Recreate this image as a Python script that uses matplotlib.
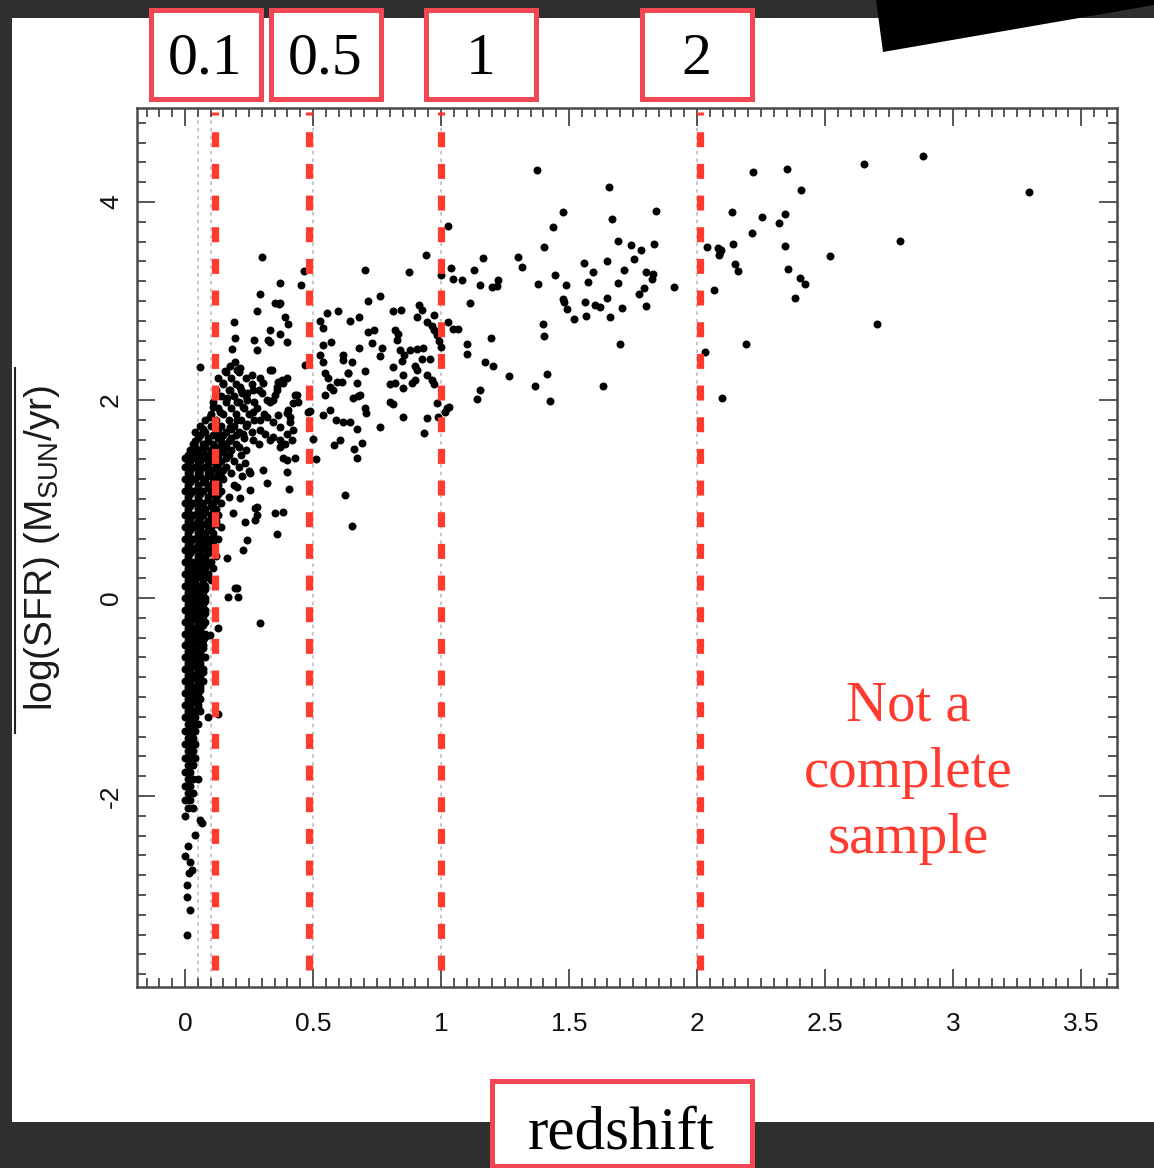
import matplotlib
matplotlib.use('Agg')
import matplotlib.pyplot as plt
from matplotlib.patches import Rectangle, Polygon
from matplotlib.lines import Line2D
from matplotlib.ticker import MultipleLocator, FixedLocator, FixedFormatter
import matplotlib.transforms as mtransforms

W, H = 1154, 1168
plt.rcParams['font.family'] = ['Liberation Sans', 'DejaVu Sans']
plt.rcParams['axes.unicode_minus'] = False
plt.rcParams['lines.scale_dashes'] = False

# ---------------- data ----------------
x_tick_values = [0, 0.5, 1, 1.5, 2, 2.5, 3, 3.5]
x_tick_labels = ['0', '0.5', '1', '1.5', '2', '2.5', '3', '3.5']
y_tick_values = [-2, 0, 2, 4]
y_tick_labels = ['-2', '0', '2', '4']

reference_redshifts = [0.05, 0.1, 0.5, 1.0, 2.0]          # faint dotted lines of the original plot
highlight_redshifts = [0.117, 0.485, 1.0, 2.012]          # red dashed overlays
box_labels = ['0.1', '0.5', '1', '2']
x_label = 'redshift'
y_label = r'log(SFR) (M$_{\mathregular{SUN}}$/yr)'
note_text = 'Not a\ncomplete\nsample'

# dense low-redshift column: log SFR levels and redshifts of the points on each level
core_logsfr = [2.28, 2.22, 2.16, 2.10, 2.04, 1.98, 1.92, 1.86, 1.80, 1.74, 1.68, 1.62,
               1.56, 1.50, 1.44, 1.38, 1.32, 1.26, 1.20, 1.14, 1.08, 1.02, 0.96, 0.90,
               0.84, 0.78, 0.72, 0.66, 0.60, 0.54, 0.48, 0.42, 0.36, 0.30, 0.24, 0.18,
               0.12, 0.06, 0.00, -0.06, -0.12, -0.18, -0.24, -0.30, -0.36, -0.42, -0.48,
               -0.54, -0.60, -0.66, -0.72, -0.78, -0.84, -0.90, -0.96, -1.02, -1.08,
               -1.14, -1.20, -1.27, -1.34, -1.41, -1.48, -1.55, -1.62, -1.69, -1.76,
               -1.83, -1.90, -1.97, -2.04, -2.12, -2.20]
core_redshifts = [
    [0.16, 0.21], [0.13, 0.18, 0.24], [0.15, 0.20, 0.26], [0.12, 0.17, 0.22, 0.29],
    [0.14, 0.19, 0.24], [0.11, 0.16, 0.21, 0.27, 0.33], [0.13, 0.18, 0.23, 0.28],
    [0.10, 0.15, 0.20, 0.25, 0.31], [0.08, 0.12, 0.17, 0.22, 0.27],
    [0.06, 0.10, 0.14, 0.19, 0.24], [0.04, 0.08, 0.12, 0.16, 0.21, 0.26],
    [0.05, 0.09, 0.13, 0.18, 0.23], [0.03, 0.07, 0.11, 0.15, 0.20, 0.29],
    [0.02, 0.06, 0.10, 0.14, 0.18, 0.24], [0.01, 0.05, 0.09, 0.13, 0.17, 0.22],
    [0.02, 0.06, 0.10, 0.14, 0.19], [0.00, 0.04, 0.08, 0.12, 0.16, 0.21],
    [0.01, 0.05, 0.09, 0.13, 0.18], [0.00, 0.04, 0.08, 0.12, 0.15],
    [0.01, 0.05, 0.09, 0.13, 0.19], [0.00, 0.03, 0.07, 0.11, 0.14],
    [0.01, 0.05, 0.09, 0.12, 0.17], [0.00, 0.03, 0.07, 0.11, 0.14],
    [0.01, 0.05, 0.08, 0.12], [0.00, 0.03, 0.07, 0.10, 0.13], [0.01, 0.05, 0.09, 0.12],
    [0.00, 0.03, 0.06, 0.10, 0.14], [0.01, 0.05, 0.08, 0.11], [0.00, 0.03, 0.07, 0.10, 0.13],
    [0.01, 0.05, 0.08, 0.11], [0.00, 0.03, 0.06, 0.10], [0.01, 0.05, 0.08, 0.12],
    [0.00, 0.03, 0.07, 0.10], [0.01, 0.04, 0.08, 0.11], [0.00, 0.03, 0.06, 0.09],
    [0.01, 0.04, 0.07, 0.10], [0.00, 0.03, 0.06, 0.08], [0.01, 0.04, 0.07],
    [0.00, 0.03, 0.06, 0.08], [0.01, 0.04, 0.07], [0.00, 0.03, 0.05, 0.08],
    [0.01, 0.04, 0.07], [0.00, 0.02, 0.05, 0.08], [0.01, 0.04, 0.06],
    [0.00, 0.03, 0.05, 0.08], [0.01, 0.04, 0.07], [0.00, 0.02, 0.05, 0.07],
    [0.01, 0.04, 0.06], [0.00, 0.03, 0.05, 0.08], [0.01, 0.04, 0.06],
    [0.00, 0.02, 0.05, 0.07], [0.01, 0.03, 0.06], [0.00, 0.02, 0.05, 0.07],
    [0.01, 0.04, 0.06], [0.00, 0.03, 0.05], [0.01, 0.04, 0.06], [0.00, 0.02, 0.05],
    [0.01, 0.03, 0.06], [0.00, 0.02, 0.04], [0.01, 0.03, 0.05], [0.00, 0.02, 0.04],
    [0.01, 0.03], [0.00, 0.02, 0.04], [0.01, 0.03], [0.00, 0.02, 0.04], [0.01, 0.03],
    [0.00, 0.02], [0.01, 0.03, 0.05], [0.00, 0.02], [0.01, 0.03], [0.00, 0.02],
    [0.01, 0.03], [0.00]]

# in-between levels of the same dense column
core_logsfr_fill = [1.71, 1.65, 1.59, 1.53, 1.47, 1.41, 1.35, 1.29, 1.23, 1.17, 1.11, 1.05,
                    0.99, 0.93, 0.87, 0.81, 0.75, 0.69, 0.63, 0.57, 0.51, 0.45, 0.39, 0.33,
                    0.27, 0.21, 0.15, 0.09, 0.03, -0.03, -0.09, -0.15, -0.21, -0.27, -0.33,
                    -0.39, -0.45, -0.51, -0.57, -0.63, -0.69, -0.75, -0.81, -0.87, -0.93,
                    -0.99, -1.05, -1.11, -1.17]
core_redshifts_fill = [
    [0.07, 0.13, 0.18], [0.06, 0.11, 0.15, 0.20], [0.04, 0.09, 0.14, 0.17],
    [0.04, 0.08, 0.12, 0.16, 0.21], [0.03, 0.07, 0.11, 0.15], [0.00, 0.04, 0.08, 0.12, 0.16],
    [0.01, 0.05, 0.09, 0.13], [0.02, 0.06, 0.10, 0.15], [0.02, 0.06, 0.10, 0.14],
    [0.02, 0.07, 0.11], [0.01, 0.05, 0.09, 0.12], [0.02, 0.06, 0.10, 0.13],
    [0.01, 0.05, 0.09, 0.12], [0.02, 0.06, 0.10], [0.01, 0.05, 0.08, 0.11],
    [0.02, 0.06, 0.10], [0.01, 0.04, 0.08, 0.12], [0.02, 0.06, 0.09],
    [0.01, 0.05, 0.08, 0.11], [0.02, 0.06, 0.09], [0.01, 0.04, 0.08, 0.11],
    [0.02, 0.06, 0.09], [0.01, 0.05, 0.08], [0.02, 0.06, 0.09], [0.01, 0.05, 0.07],
    [0.02, 0.05, 0.08], [0.01, 0.04, 0.07], [0.02, 0.05, 0.08], [0.01, 0.04, 0.06],
    [0.02, 0.05, 0.08], [0.01, 0.04, 0.06], [0.02, 0.05, 0.08], [0.01, 0.03, 0.06],
    [0.02, 0.05, 0.07], [0.01, 0.04, 0.06], [0.02, 0.05, 0.08], [0.01, 0.03, 0.06],
    [0.02, 0.05, 0.07], [0.01, 0.04, 0.06], [0.02, 0.05], [0.01, 0.03, 0.06],
    [0.02, 0.05, 0.07], [0.01, 0.04], [0.02, 0.05], [0.01, 0.03, 0.06], [0.02, 0.05],
    [0.01, 0.03], [0.02, 0.05], [0.01, 0.03]]

# scattered galaxies, (redshift, log SFR)
low_z_points = [
    (0.302, 3.44), (0.293, 3.07), (0.352, 2.98), (0.367, 2.97), (0.280, 2.90), (0.193, 2.79),
    (0.197, 2.63), (0.270, 2.61), (0.280, 2.51), (0.330, 2.71), (0.324, 2.61), (0.184, 2.52),
    (0.059, 2.33), (0.332, 2.59), (0.195, 2.38), (0.176, 2.34), (0.156, 2.29), (0.202, 2.30),
    (0.215, 2.32), (0.260, 2.25), (0.293, 2.22), (0.332, 2.30), (0.365, 2.18), (0.436, 2.05),
    (0.358, 2.10), (0.352, 2.05), (0.319, 2.00), (0.404, 1.90), (0.150, 2.17), (0.176, 2.10),
    (0.215, 2.13), (0.241, 2.07), (0.163, 2.02), (0.202, 1.98), (0.228, 1.93), (0.111, 1.93),
    (0.098, 1.83), (0.137, 1.88), (0.267, 1.88), (0.293, 1.80), (0.319, 1.83), (0.345, 1.78),
    (0.371, 1.73), (0.397, 1.66), (0.293, 1.70), (0.241, 1.76), (0.202, 1.80), (0.176, 1.73),
    (0.228, 1.66), (0.267, 1.60), (0.332, 1.60), (0.371, 1.53), (0.319, 1.16), (0.254, 1.09),
    (0.215, 1.01), (0.280, 0.92), (0.280, 0.84), (0.352, 0.86), (0.234, 0.77), (0.241, 0.59),
    (0.228, 0.48), (0.163, 0.40), (0.358, 0.65), (0.251, 1.28), (0.221, 1.23), (0.202, 1.12),
    (0.189, 0.86), (0.195, 0.10), (0.313, 1.66), (0.345, 1.63), (0.430, 1.41), (0.306, 1.29),
    (0.234, 1.36), (0.254, 1.26), (0.273, 0.91), (0.273, 0.79), (0.443, 1.98), (0.410, 1.83),
    (0.378, 2.20), (0.339, 2.30), (0.358, 2.13), (0.345, 2.00), (0.365, 1.85), (0.306, 2.17),
    (0.300, 2.07), (0.267, 2.10), (0.241, 2.00), (0.221, 2.07), (0.202, 0.10), (0.169, 0.01),
    (0.208, 0.01), (0.293, -0.25), (0.130, -0.30), (0.098, -0.37), (0.130, -1.17),
    (0.091, -1.20), (0.065, -2.27), (0.039, -2.39), (0.007, -2.90), (0.007, -3.02),
    (0.020, -3.15), (0.007, -3.40), (0.017, -2.78), (0.026, -2.75), (0.013, -2.51),
    (0.000, -2.61), (0.020, -2.67), (0.059, -2.24), (0.371, 2.98), (0.391, 2.84),
    (0.404, 2.77), (0.371, 2.67), (0.397, 2.59), (0.397, 2.22), (0.384, 2.17), (0.430, 2.05),
    (0.423, 1.97), (0.397, 1.87), (0.410, 1.78), (0.423, 1.70), (0.371, 1.60), (0.391, 1.56),
    (0.417, 1.60), (0.384, 1.41), (0.397, 1.39), (0.397, 1.27), (0.408, 1.10), (0.384, 0.87),
    (0.371, 3.18), (0.453, 3.16)]

mid_z_points = [
    (0.940, 3.46), (0.703, 3.31), (0.876, 3.29), (0.466, 3.30), (0.998, 3.26), (0.716, 3.00),
    (0.762, 3.05), (0.814, 2.90), (0.843, 2.91), (0.915, 2.96), (0.924, 2.91), (0.905, 2.84),
    (0.974, 2.86), (0.947, 2.79), (0.963, 2.75), (0.974, 2.71), (0.983, 2.66), (0.993, 2.60),
    (0.999, 2.54), (0.599, 2.90), (0.553, 2.88), (0.527, 2.80), (0.540, 2.73), (0.645, 2.80),
    (0.681, 2.84), (0.716, 2.69), (0.740, 2.71), (0.729, 2.58), (0.768, 2.53), (0.762, 2.44),
    (0.681, 2.53), (0.540, 2.56), (0.569, 2.59), (0.527, 2.45), (0.540, 2.38), (0.618, 2.45),
    (0.618, 2.40), (0.651, 2.38), (0.635, 2.27), (0.703, 2.29), (0.820, 2.71), (0.833, 2.67),
    (0.827, 2.61), (0.840, 2.51), (0.855, 2.45), (0.846, 2.39), (0.879, 2.51), (0.905, 2.52),
    (0.931, 2.53), (0.898, 2.34), (0.907, 2.30), (0.924, 2.41), (0.957, 2.41), (0.811, 2.33),
    (0.853, 2.25), (0.801, 2.16), (0.820, 2.17), (0.850, 2.12), (0.885, 2.17), (0.898, 2.20),
    (0.944, 2.25), (0.963, 2.20), (0.973, 2.16), (0.801, 1.98), (0.811, 1.96), (0.850, 1.83),
    (0.944, 1.82), (0.934, 1.67), (0.986, 1.97), (0.990, 1.83), (1.016, 1.88), (0.671, 2.17),
    (0.684, 2.05), (0.658, 2.02), (0.677, 2.04), (0.703, 1.92), (0.707, 1.87), (0.618, 1.78),
    (0.645, 1.78), (0.590, 1.80), (0.671, 1.71), (0.762, 1.73), (0.690, 1.57), (0.660, 1.51),
    (0.671, 1.41), (0.605, 1.60), (0.583, 1.55), (0.625, 1.04), (0.651, 0.73), (0.547, 2.27),
    (0.560, 2.22), (0.566, 2.13), (0.547, 2.05), (0.579, 2.10), (0.540, 1.85), (0.566, 1.90),
    (0.595, 2.18), (0.612, 2.18), (0.638, 2.27), (0.490, 1.89), (0.501, 1.61), (0.512, 1.40),
    (0.469, 2.35), (0.482, 1.88)]

high_z_points = [
    (1.374, 4.32), (1.654, 4.15), (2.218, 4.30), (1.478, 3.90), (1.838, 3.91), (2.138, 3.90),
    (2.255, 3.85), (1.667, 3.83), (1.439, 3.75), (1.027, 3.76), (2.216, 3.69), (1.404, 3.55),
    (1.690, 3.61), (1.741, 3.57), (1.780, 3.52), (1.831, 3.58), (2.038, 3.55), (2.080, 3.54),
    (2.090, 3.50), (2.085, 3.46), (2.095, 3.52), (2.139, 3.58), (2.147, 3.37), (2.161, 3.30),
    (2.066, 3.11), (1.165, 3.43), (1.300, 3.44), (1.318, 3.34), (1.040, 3.33), (1.128, 3.31),
    (1.560, 3.38), (1.650, 3.40), (1.755, 3.42), (1.048, 3.22), (1.083, 3.21), (1.152, 3.16),
    (1.198, 3.14), (1.217, 3.15), (1.224, 3.21), (1.379, 3.17), (1.445, 3.26), (1.488, 3.16),
    (1.592, 3.29), (1.573, 3.19), (1.716, 3.31), (1.693, 3.18), (1.801, 3.29), (1.829, 3.27),
    (1.824, 3.22), (1.911, 3.14), (1.793, 3.13), (1.775, 3.07), (1.113, 2.98), (1.475, 3.02),
    (1.480, 2.99), (1.491, 2.92), (1.563, 2.99), (1.603, 2.96), (1.621, 2.94), (1.647, 3.03),
    (1.706, 2.93), (1.801, 2.95), (1.521, 2.82), (1.566, 2.85), (1.660, 2.84), (1.029, 2.79),
    (1.048, 2.72), (1.068, 2.72), (1.400, 2.77), (1.402, 2.65), (1.195, 2.63), (1.100, 2.57),
    (1.102, 2.46), (1.699, 2.57), (2.190, 2.57), (2.031, 2.49), (1.171, 2.38), (1.204, 2.34),
    (1.266, 2.24), (1.415, 2.26), (1.367, 2.14), (1.634, 2.14), (1.154, 2.10), (1.142, 2.01),
    (1.426, 1.99), (2.099, 2.02), (1.022, 1.92), (1.032, 1.93),
    (2.350, 4.33), (2.650, 4.38), (2.881, 4.47), (2.405, 4.12), (3.297, 4.10), (2.342, 3.88),
    (2.318, 3.79), (2.344, 3.56), (2.793, 3.61), (2.520, 3.45), (2.357, 3.32), (2.400, 3.23),
    (2.422, 3.17), (2.383, 3.03), (2.702, 2.77)]

# ---------------- figure ----------------
fig = plt.figure(figsize=(W / 100, H / 100), dpi=100)
fig.patch.set_facecolor('#2f2f2f')


def fx(px):
    return px / W


def fy(py):
    return 1 - py / H


fig.add_artist(Rectangle((fx(12), fy(1122)), fx(1154) - fx(12), fy(18) - fy(1122),
                         transform=fig.transFigure, facecolor='white', edgecolor='none', zorder=-5))

ax = fig.add_axes([fx(137), fy(987), fx(1117) - fx(137), fy(108) - fy(987)])
ax.set_facecolor('white')
ax.set_xlim(-0.1875, 3.64)
ax.set_ylim(-3.93, 4.95)

for z in reference_redshifts:
    ax.axvline(z, color='#bdbdbd', lw=1.2, ls=(0, (2.5, 3)), zorder=1)

xs, ys = [], []
for levels, rows in ((core_logsfr, core_redshifts), (core_logsfr_fill, core_redshifts_fill)):
    for lvl, zs in zip(levels, rows):
        for z in zs:
            xs.append(z)
            ys.append(lvl)
for group in (low_z_points, mid_z_points, high_z_points):
    for z, s in group:
        xs.append(z)
        ys.append(s)
ax.scatter(xs, ys, s=33, c='black', linewidths=0, zorder=2)

trans = mtransforms.blended_transform_factory(ax.transData, ax.transAxes)
for z in highlight_redshifts:
    ax.plot([z, z], [0.995, 0.01], transform=trans, color='#ff3b30', lw=5.2,
            ls=(8.6, (10.8, 12.0)), dash_capstyle='butt', zorder=3, clip_on=False)

ax.xaxis.set_major_locator(FixedLocator(x_tick_values))
ax.xaxis.set_major_formatter(FixedFormatter(x_tick_labels))
ax.yaxis.set_major_locator(FixedLocator(y_tick_values))
ax.yaxis.set_major_formatter(FixedFormatter(y_tick_labels))
ax.xaxis.set_minor_locator(MultipleLocator(0.05))
ax.yaxis.set_minor_locator(MultipleLocator(0.2))
ax.tick_params(which='both', direction='in', top=True, right=True, color='#3a3a3a', width=1.2)
ax.tick_params(which='major', length=13)
ax.tick_params(which='minor', length=6.5)
ax.tick_params(axis='x', labelsize=19, pad=18, labelcolor='#111111')
ax.tick_params(axis='y', labelsize=19, pad=10, labelcolor='#111111', labelrotation=90)
for t in ax.get_yticklabels():
    t.set_va('center')
for sp in ax.spines.values():
    sp.set_color('#4a4a4a')
    sp.set_linewidth(1.8)

# y label with overline
fig.text(fx(42), fy(548), y_label, rotation=90, ha='center', va='center',
         fontsize=28, color='#1a1a1a')
fig.add_artist(Line2D([fx(15), fx(15)], [fy(368), fy(733)], color='#222222', lw=1.5,
                      transform=fig.transFigure))


def boxed(x0, y0, x1, y1, text, fs, ty):
    inset = 2.5
    fig.add_artist(Rectangle((fx(x0 + inset), fy(y1 - inset)), fx(x1 - inset) - fx(x0 + inset),
                             fy(y0 + inset) - fy(y1 - inset), transform=fig.transFigure,
                             facecolor='white', edgecolor='#f34653', lw=3.6, zorder=10))
    fig.text(fx((x0 + x1) / 2), fy(ty), text, ha='center', va='center', fontsize=fs,
             family=['Liberation Serif', 'DejaVu Serif'], color='black', zorder=11)


box_px = [(148, 8, 263, 101), (268, 8, 383, 101), (423, 8, 538, 101), (639, 8, 754, 101)]
for (x0, y0, x1, y1), lab in zip(box_px, box_labels):
    boxed(x0, y0, x1, y1, lab, 43, 60)
boxed(489, 1078, 754, 1168, x_label, 44, 1134)

fig.text(fx(908), fy(773), note_text, ha='center', va='center', ma='center',
         fontsize=41, family=['Liberation Serif', 'DejaVu Serif'], color='#ff3b30',
         linespacing=1.36)

fig.add_artist(Polygon([(fx(876), fy(0)), (fx(883), fy(52)), (fx(1154), fy(5)), (fx(1154), fy(0))],
                       closed=True, transform=fig.transFigure, facecolor='black',
                       edgecolor='none', zorder=12))

fig.savefig('out.png', dpi=100, facecolor=fig.get_facecolor())
